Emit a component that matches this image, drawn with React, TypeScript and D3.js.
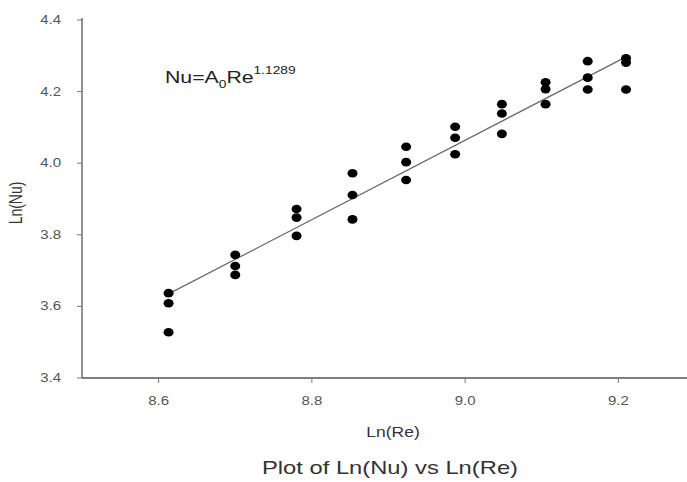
import React from "react";
import * as d3 from "d3";

// Ln(Re) for each test group
const lnRe = [8.613, 8.7, 8.78, 8.853, 8.923, 8.987, 9.048, 9.105, 9.16, 9.21];
// Ln(Nu) readings, one list per group
const lnNu = [
  [3.637, 3.609, 3.528],
  [3.744, 3.713, 3.688],
  [3.872, 3.848, 3.797],
  [3.972, 3.911, 3.843],
  [4.046, 4.003, 3.953],
  [4.102, 4.071, 4.025],
  [4.165, 4.139, 4.082],
  [4.226, 4.207, 4.165],
  [4.285, 4.239, 4.206],
  [4.293, 4.281, 4.206],
];
// fitted line ends
const fitX = [8.613, 9.21];
const fitY = [3.635, 4.297];

const xTicks = [8.6, 8.8, 9.0, 9.2];
const yTicks = [3.4, 3.6, 3.8, 4.0, 4.2, 4.4];

const W = 687;
const H = 482;
const font = "'Liberation Sans', Arial, sans-serif";
// the original picture is stretched sideways a little
const sx = 1.25;

function T(props: any) {
  const { x, y, rotate, children, ...rest } = props;
  const tr = `translate(${x},${y}) scale(${sx},1)` + (rotate ? ` rotate(${rotate})` : "");
  return (
    <text transform={tr} {...rest}>
      {children}
    </text>
  );
}

export default function App() {
  const x = d3.scaleLinear().domain([8.5, 9.3]).range([82, 695]);
  const y = d3.scaleLinear().domain([3.4, 4.4]).range([378, 20]);

  const points = lnRe.flatMap((r, i) => lnNu[i].map((n) => [r, n]));
  const line = d3
    .line<number>()
    .x((d) => x(d))
    .y((_, i) => y(fitY[i]));

  return (
    <svg
      width={W}
      height={H}
      style={{ position: "absolute", left: 0, top: 0, background: "#fff" }}
      fontFamily={font}
    >
      {/* axes */}
      <line x1={x(8.5)} x2={x(8.5)} y1={y(4.4) - 2} y2={y(3.4)} stroke="#555" strokeWidth={1.3} />
      <line x1={x(8.5)} x2={W} y1={y(3.4)} y2={y(3.4)} stroke="#555" strokeWidth={1.3} />

      {yTicks.map((t) => (
        <g key={"y" + t}>
          <line x1={x(8.5) - 5} x2={x(8.5)} y1={y(t)} y2={y(t)} stroke="#777" />
          <T x={61} y={y(t) + 4} textAnchor="end" fontSize={12} fill="#555">
            {t.toFixed(1)}
          </T>
        </g>
      ))}
      {xTicks.map((t) => (
        <g key={"x" + t}>
          <line x1={x(t)} x2={x(t)} y1={y(3.4)} y2={y(3.4) + 5} stroke="#777" />
          <T x={x(t)} y={405} textAnchor="middle" fontSize={12} fill="#555">
            {t.toFixed(1)}
          </T>
        </g>
      ))}

      <T x={22} y={203} rotate={-90} textAnchor="middle" fontSize={14} fill="#333">
        Ln(Nu)
      </T>
      <T x={393} y={437} textAnchor="middle" fontSize={14} fill="#333">
        Ln(Re)
      </T>
      <T x={390} y={474} textAnchor="middle" fontSize={19} fill="#333">
        Plot of Ln(Nu) vs Ln(Re)
      </T>

      <T x={165} y={83} fontSize={17} fill="#222">
        Nu=A
        <tspan fontSize={11} dy={5}>0</tspan>
        <tspan dy={-5}>Re</tspan>
        <tspan fontSize={11} dy={-9}>1.1289</tspan>
      </T>

      <path d={line(fitX) || ""} fill="none" stroke="#666" strokeWidth={1.2} />

      {points.map(([r, n], i) => (
        <ellipse key={i} cx={x(r)} cy={y(n)} rx={5} ry={4.3} fill="#000" />
      ))}
    </svg>
  );
}
